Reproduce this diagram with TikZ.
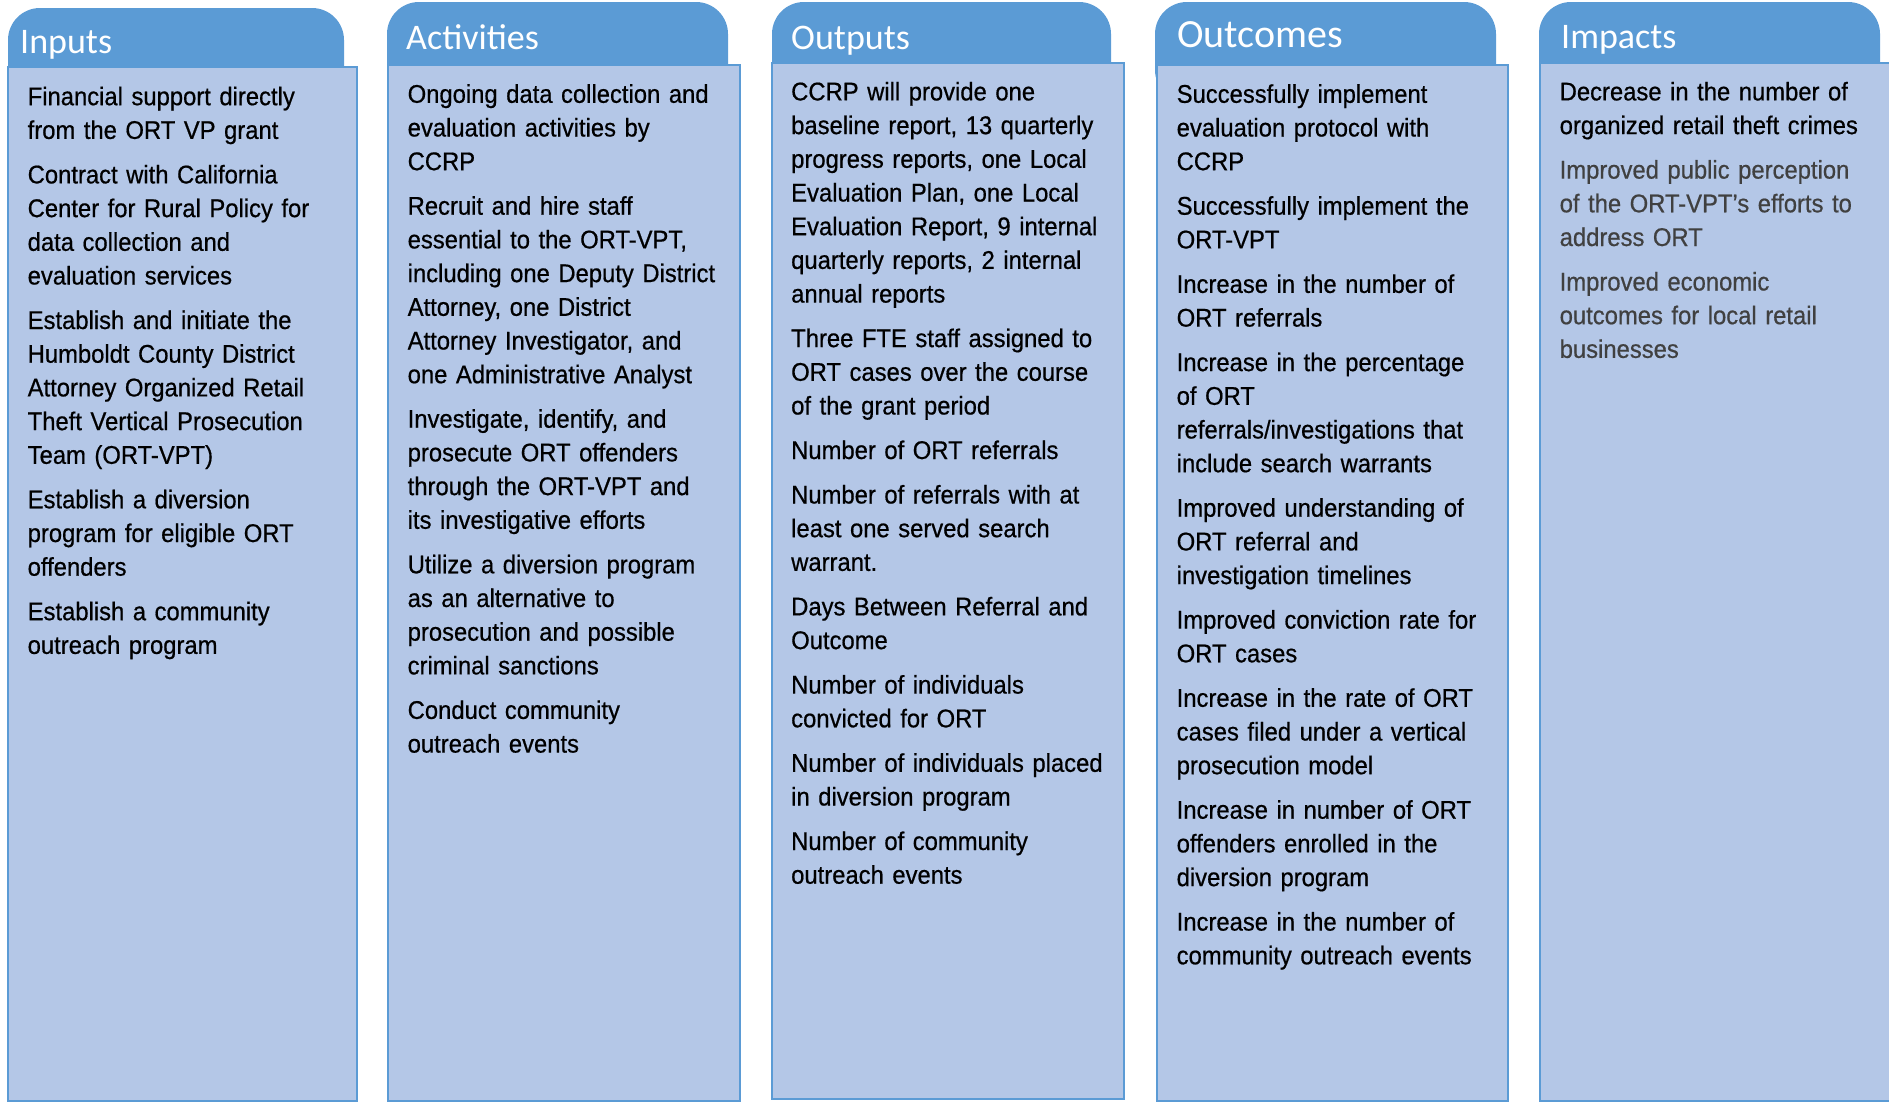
\documentclass[tikz,border=0pt]{standalone}
\usepackage{fontspec}
\usepackage{tikz}
\newfontfamily\headfont{Carlito}
\newfontfamily\itemfont{Liberation Sans}[FakeStretch=0.93, FakeBold=0.6]
\definecolor{tabblue}{HTML}{5B9BD5}
\definecolor{panelblue}{HTML}{B4C7E7}
\definecolor{softgray}{HTML}{404040}
\newcommand{\nextitem}{\\[10.8pt]}
\tikzstyle{tab}=[fill=tabblue, rounded corners=32pt, inner sep=0pt, outer sep=0pt, minimum height=100pt, anchor=north west]
\tikzstyle{panel}=[draw=tabblue, line width=2pt, fill=panelblue, inner sep=0pt, outer sep=0pt, anchor=north west]
\tikzstyle{head}=[text=white, inner sep=0pt, anchor=base west, font=\headfont\fontsize{36}{40}\selectfont]
\tikzstyle{items}=[inner sep=0pt, anchor=north west, text width=345pt, align=left, font=\itemfont\fontsize{25.6}{33.7}\selectfont]

\begin{document}
\begin{tikzpicture}[x=1pt, y=-1pt]
        \useasboundingbox (0,0) rectangle (1889,1103);
        % Inputs
        \node[tab, minimum width=336pt] (intab) at (8,8) {};
        \node[panel, minimum width=349pt, minimum height=1034pt] (inpanel) at (8,67) {};
        \node[head] (inhead) at (20,53) {Inputs};
        \node[items] (initems) at (27.5,85) {\rule{0pt}{20pt}Financial support directly\\from the ORT VP grant\nextitem
            Contract with California\\Center for Rural Policy for\\data collection and\\evaluation services\nextitem
            Establish and initiate the\\Humboldt County District\\Attorney Organized Retail\\Theft Vertical Prosecution\\Team (ORT-VPT)\nextitem
            Establish a diversion\\program for eligible ORT\\offenders\nextitem
            Establish a community\\outreach program};
        % Activities
        \node[tab, minimum width=341pt] (actab) at (387,2) {};
        \node[panel, minimum width=352pt, minimum height=1036pt] (acpanel) at (388,65) {};
        \node[head] (achead) at (406,49) {Activities};
        \node[items] (acitems) at (407.5,82.6) {\rule{0pt}{20pt}Ongoing data collection and\\evaluation activities by\\CCRP\nextitem
            Recruit and hire staff\\essential to the ORT-VPT,\\including one Deputy District\\Attorney, one District\\Attorney Investigator, and\\one Administrative Analyst\nextitem
            Investigate, identify, and\\prosecute ORT offenders\\through the ORT-VPT and\\its investigative efforts\nextitem
            Utilize a diversion program\\as an alternative to\\prosecution and possible\\criminal sanctions\nextitem
            Conduct community\\outreach events};
        % Outputs
        \node[tab, minimum width=339pt] (outab) at (772,2) {};
        \node[panel, minimum width=352pt, minimum height=1036pt] (oupanel) at (772,63) {};
        \node[head] (ouhead) at (791,49) {Outputs};
        \node[items] (ouitems) at (791,80.2) {\rule{0pt}{20pt}CCRP will provide one\\baseline report, 13 quarterly\\progress reports, one Local\\Evaluation Plan, one Local\\Evaluation Report, 9 internal\\quarterly reports, 2 internal\\annual reports\nextitem
            Three FTE staff assigned to\\ORT cases over the course\\of the grant period\nextitem
            Number of ORT referrals\nextitem
            Number of referrals with at\\least one served search\\warrant.\nextitem
            Days Between Referral and\\Outcome\nextitem
            Number of individuals\\convicted for ORT\nextitem
            Number of individuals placed\\in diversion program\nextitem
            Number of community\\outreach events};
        % Outcomes
        \node[tab, minimum width=341pt] (octab) at (1155,2) {};
        \node[panel, minimum width=351pt, minimum height=1036pt] (ocpanel) at (1157,65) {};
        \node[head, font=\headfont\fontsize{40}{44}\selectfont] (ochead) at (1177,47) {Outcomes};
        \node[items] (ocitems) at (1176.5,82.6) {\rule{0pt}{20pt}Successfully implement\\evaluation protocol with\\CCRP\nextitem
            Successfully implement the\\ORT-VPT\nextitem
            Increase in the number of\\ORT referrals\nextitem
            Increase in the percentage\\of ORT\\referrals/investigations that\\include search warrants\nextitem
            Improved understanding of\\ORT referral and\\investigation timelines\nextitem
            Improved conviction rate for\\ORT cases\nextitem
            Increase in the rate of ORT\\cases filed under a vertical\\prosecution model\nextitem
            Increase in number of ORT\\offenders enrolled in the\\diversion program\nextitem
            Increase in the number of\\community outreach events};
        % Impacts
        \node[tab, minimum width=341pt] (imtab) at (1539,2) {};
        \node[panel, minimum width=380pt, minimum height=1038pt] (impanel) at (1540,63) {};
        \node[head] (imhead) at (1561,48.5) {Impacts};
        \node[items] (imitems) at (1559.5,80.2) {\rule{0pt}{20pt}Decrease in the number of\\organized retail theft crimes\nextitem
            {\color{softgray}Improved public perception\\of the ORT-VPT’s efforts to\\address ORT\nextitem
            Improved economic\\outcomes for local retail\\businesses}};
    \end{tikzpicture}
\end{document}
